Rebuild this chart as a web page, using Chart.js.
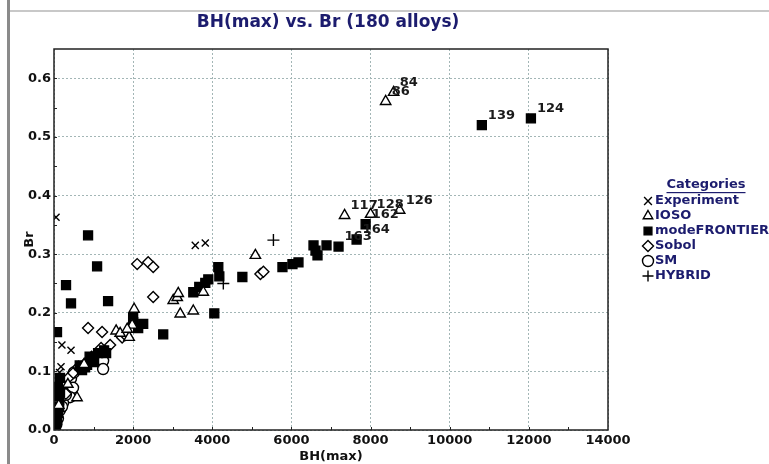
<!DOCTYPE html>
<html>
<head>
<meta charset="utf-8">
<script src="https://cdn.jsdelivr.net/npm/chart.js@4/dist/chart.umd.min.js"></script>
<style>
  body { margin:0; background:#fff; }
  #wrap { position:relative; width:769px; height:464px; overflow:hidden; background:#fff; }
  .vline { position:absolute; left:7px; top:0; width:3px; height:464px; background:#8a8a8a; }
  .hline { position:absolute; left:10px; top:10px; right:0; height:2px; background:#c8c8c8; }
  canvas { position:absolute; left:0; top:0; }
</style>
</head>
<body>
<div id="wrap">
  <div class="vline"></div>
  <div class="hline"></div>
  <canvas id="c" width="769" height="464"></canvas>
</div>
<script>
const chartTitle = "BH(max) vs. Br (180 alloys)";
const xTitle = "BH(max)";
const yTitle = "Br";
const legendTitle = "Categories";
const xTickVals = [0, 2000, 4000, 6000, 8000, 10000, 12000, 14000];
const yTickVals = [0, 0.1, 0.2, 0.3, 0.4, 0.5, 0.6];

// Experiment (x)
const expX = [51, 200, 430, 177, 140, 3570, 3823];
const expY = [0.363, 0.145, 0.136, 0.108, 0.098, 0.315, 0.319];

// IOSO (triangle)
const iosoX = [8583, 8381, 7343, 8001, 8735, 5089, 3773, 3013, 3114, 3140, 3190, 3520, 2026, 1975, 1899, 1570, 1671, 582, 760, 350, 120, 1850];
const iosoY = [0.576, 0.5605, 0.366, 0.368, 0.375, 0.298, 0.235, 0.221, 0.226, 0.233, 0.198, 0.203, 0.206, 0.179, 0.158, 0.169, 0.165, 0.055, 0.112, 0.078, 0.042, 0.172];
const iosoTags = ["84", "86", "117", "128", "126"];

// modeFRONTIER (filled square)
const mfX = [10812, 12052, 7875, 7647, 7191, 6887, 6558, 6609, 6659, 5773, 6026, 6178, 4760, 4152, 4178, 4051, 3520, 3671, 3823, 3899,
  861, 1089, 304, 430, 1367, 76, 2000, 2000, 2254, 2127, 2760, 1266, 1317, 987, 1013, 785, 836, 709, 152, 152,
  101, 76, 130, 101, 76, 51, 130, 90, 60, 1114, 900, 650];
const mfY = [0.520, 0.5315, 0.351, 0.325, 0.313, 0.315, 0.315, 0.306, 0.298, 0.278, 0.283, 0.286, 0.261, 0.278, 0.262, 0.199, 0.235, 0.244, 0.251, 0.257,
  0.332, 0.279, 0.247, 0.216, 0.220, 0.167, 0.191, 0.184, 0.181, 0.174, 0.163, 0.136, 0.131, 0.121, 0.116, 0.107, 0.111, 0.102, 0.089, 0.065,
  0.073, 0.063, 0.051, 0.029, 0.017, 0.005, 0.040, 0.035, 0.022, 0.131, 0.125, 0.110];
const mfTags = ["139", "124", "162", "164", "163"];

// Sobol (diamond)
const sobolX = [5216, 5292, 2102, 2380, 2507, 2507, 861, 1215, 1722, 1800, 1418, 1190, 950, 780, 620, 480, 350, 250, 180, 120, 300];
const sobolY = [0.266, 0.270, 0.283, 0.286, 0.278, 0.227, 0.174, 0.167, 0.158, 0.162, 0.145, 0.140, 0.125, 0.113, 0.108, 0.097, 0.088, 0.075, 0.060, 0.050, 0.062];

// SM (circle)
const smX = [1241, 1241, 430, 481, 405, 228, 152, 100, 300, 60, 500, 203];
const smY = [0.118, 0.104, 0.088, 0.072, 0.056, 0.046, 0.034, 0.020, 0.060, 0.010, 0.098, 0.040];

// HYBRID (+)
const hybX = [5545, 4279];
const hybY = [0.324, 0.250];

const navy = "#1c1c6e";
const gridColor = "#a3b6b6";

function pts(xs, ys){ return xs.map((x, i) => ({ x: x, y: ys[i] })); }

const series = [
  { label: "Experiment", data: pts(expX, expY), style: "crossRot", r: 5, fill: "#000", tags: [] },
  { label: "IOSO", data: pts(iosoX, iosoY), style: "triangle", r: 6, fill: "#fff", tags: iosoTags },
  { label: "modeFRONTIER", data: pts(mfX, mfY), style: "rect", r: 6.3, fill: "#000", tags: mfTags },
  { label: "Sobol", data: pts(sobolX, sobolY), style: "rectRot", r: 5.5, fill: "#fff", tags: [] },
  { label: "SM", data: pts(smX, smY), style: "circle", r: 5.5, fill: "#fff", tags: [] },
  { label: "HYBRID", data: pts(hybX, hybY), style: "cross", r: 6, fill: "#000", tags: [] }
];

const decor = {
  id: "decor",
  afterDatasetsDraw(chart){
    const ctx = chart.ctx, a = chart.chartArea;
    const xs = chart.scales.x, ys = chart.scales.y;
    ctx.save();
    // point tags
    ctx.font = "bold 13px 'DejaVu Sans'";
    ctx.fillStyle = "#1a1a1a";
    ctx.textBaseline = "middle";
    ctx.textAlign = "left";
    series.forEach((s, di) => {
      const meta = chart.getDatasetMeta(di);
      s.tags.forEach((t, i) => {
        if (!t) return;
        const el = meta.data[i];
        ctx.fillText(t, el.x + 6, el.y - 10);
      });
    });
    // frame
    ctx.strokeStyle = "#222";
    ctx.lineWidth = 1.5;
    ctx.strokeRect(a.left, a.top, a.right - a.left, a.bottom - a.top);
    // minor ticks
    ctx.lineWidth = 1;
    ctx.beginPath();
    for (let v = 1000; v < 14000; v += 1000){
      const px = Math.round(xs.getPixelForValue(v)) + 0.5;
      ctx.moveTo(px, a.bottom); ctx.lineTo(px, a.bottom - 3);
    }
    for (let v = 0.05; v < 0.65; v += 0.05){
      const py = Math.round(ys.getPixelForValue(v)) + 0.5;
      ctx.moveTo(a.left, py); ctx.lineTo(a.left + 3, py);
    }
    ctx.stroke();
    // titles
    ctx.fillStyle = navy;
    ctx.textAlign = "center";
    ctx.font = "bold 17px 'DejaVu Sans'";
    ctx.fillText(chartTitle, 328, 23);
    ctx.fillStyle = "#111";
    ctx.font = "bold 13px 'DejaVu Sans'";
    ctx.fillText(xTitle, (a.left + a.right) / 2, 457);
    ctx.save();
    ctx.translate(30, (a.top + a.bottom) / 2);
    ctx.rotate(-Math.PI / 2);
    ctx.fillText(yTitle, 0, 0);
    ctx.restore();
    // legend
    ctx.fillStyle = navy;
    ctx.font = "bold 13px 'DejaVu Sans'";
    ctx.fillText(legendTitle, 706, 185);
    const tw = ctx.measureText(legendTitle).width;
    ctx.fillRect(706 - tw / 2, 192, tw, 1.2);
    ctx.textAlign = "left";
    series.forEach((s, i) => {
      const y = 201 + i * 15;
      ctx.save();
      ctx.strokeStyle = "#000";
      ctx.fillStyle = s.fill;
      ctx.lineWidth = 1.4;
      Chart.helpers.drawPoint(ctx, { pointStyle: s.style, radius: 5.5, rotation: 0, borderWidth: 1.4 }, 648, y);
      ctx.restore();
      ctx.fillStyle = navy;
      ctx.fillText(s.label, 655, y);
    });
    ctx.restore();
  }
};

new Chart(document.getElementById("c").getContext("2d"), {
  type: "scatter",
  data: {
    datasets: series.map(s => ({
      label: s.label,
      data: s.data,
      pointStyle: s.style,
      pointRadius: s.r,
      pointHoverRadius: s.r,
      pointBackgroundColor: s.fill,
      pointBorderColor: "#000",
      pointBorderWidth: 1.4
    }))
  },
  options: {
    responsive: false,
    animation: false,
    devicePixelRatio: 1,
    layout: { padding: { top: 49, right: 161, left: 0, bottom: 0 } },
    plugins: { legend: { display: false }, title: { display: false }, tooltip: { enabled: false } },
    scales: {
      x: {
        type: "linear", min: 0, max: 14000,
        afterBuildTicks: s => { s.ticks = xTickVals.map(v => ({ value: v })); },
        afterFit: s => { s.height = 34; },
        ticks: { color: "#111", font: { family: "DejaVu Sans", weight: "bold", size: 13 }, padding: 3, maxRotation: 0, autoSkip: false, callback: v => String(v) },
        grid: { color: gridColor, drawTicks: false, lineWidth: 1 },
        border: { display: false, dash: [2, 2] }
      },
      y: {
        type: "linear", min: 0, max: 0.65,
        afterBuildTicks: s => { s.ticks = yTickVals.map(v => ({ value: v })); },
        afterFit: s => { s.width = 54; },
        ticks: { color: "#111", font: { family: "DejaVu Sans", weight: "bold", size: 13 }, padding: 3, callback: v => Number(v).toFixed(1) },
        grid: { color: gridColor, drawTicks: false, lineWidth: 1 },
        border: { display: false, dash: [2, 2] }
      }
    }
  },
  plugins: [decor]
});
</script>
</body>
</html>
